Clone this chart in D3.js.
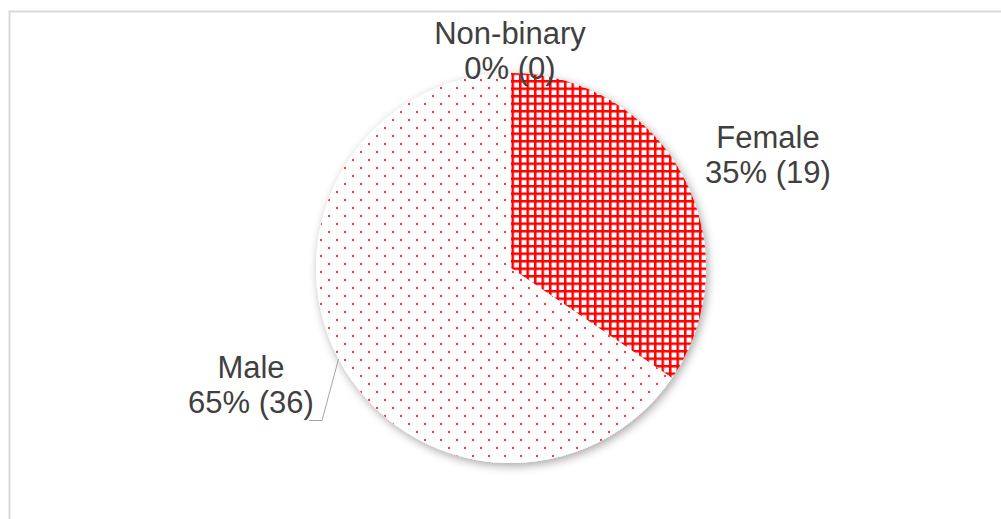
<!DOCTYPE html>
<html>
<head>
<meta charset="utf-8">
<script src="https://cdn.jsdelivr.net/npm/d3@7"></script>
<style>
  html, body { margin: 0; padding: 0; background: #fff; }
  svg { display: block; }
</style>
</head>
<body>
<svg id="chart" width="1001" height="519"></svg>
<script>
// Respondents by gender
const categories = ["Female", "Male", "Non-binary"];
const counts = [19, 36, 0];
const percentLabels = ["35%", "65%", "0%"];

const svg = d3.select("#chart");
const cx = 511, cy = 268, R = 195;

// chart frame
svg.append("rect")
  .attr("x", 9.5).attr("y", 11.5)
  .attr("width", 1010).attr("height", 520)
  .attr("fill", "#fff")
  .attr("stroke", "#d9d9d9")
  .attr("stroke-width", 2);

const defs = svg.append("defs");

// soft shadow under the pie
const shadow = defs.append("filter").attr("id", "pieShadow")
  .attr("x", "-20%").attr("y", "-20%").attr("width", "140%").attr("height", "140%");
shadow.append("feGaussianBlur").attr("in", "SourceAlpha").attr("stdDeviation", 5).attr("result", "blur");
shadow.append("feOffset").attr("in", "blur").attr("dx", 2).attr("dy", 3).attr("result", "off");
shadow.append("feComponentTransfer").attr("in", "off").attr("result", "shade")
  .append("feFuncA").attr("type", "linear").attr("slope", 0.35);
const merge = shadow.append("feMerge");
merge.append("feMergeNode").attr("in", "shade");
merge.append("feMergeNode").attr("in", "SourceGraphic");

// crosshatch fill
const gp = 7.5, gw = 2.5;
const grid = defs.append("pattern").attr("id", "gridFill")
  .attr("patternUnits", "userSpaceOnUse")
  .attr("x", 0.5).attr("y", 7)
  .attr("width", gp).attr("height", gp);
grid.append("rect").attr("width", gp).attr("height", gp).attr("fill", "#fff");
grid.append("rect").attr("x", 0).attr("y", 0).attr("width", gw).attr("height", gp).attr("fill", "#ff0000");
grid.append("rect").attr("x", 0).attr("y", 0).attr("width", gp).attr("height", gw).attr("fill", "#ff0000");

// sparse dotted fill
const dots = defs.append("pattern").attr("id", "dotFill")
  .attr("patternUnits", "userSpaceOnUse")
  .attr("x", 1).attr("y", 3)
  .attr("width", 16).attr("height", 16);
dots.append("rect").attr("width", 16).attr("height", 16).attr("fill", "#fff");
dots.append("rect").attr("x", 0).attr("y", 0).attr("width", 2).attr("height", 2).attr("fill", "#ff3b3b");
dots.append("rect").attr("x", 8).attr("y", 8).attr("width", 2).attr("height", 2).attr("fill", "#ff3b3b");

const fills = { "Female": "url(#gridFill)", "Male": "url(#dotFill)", "Non-binary": "#ff0000" };

const data = categories.map((c, i) => ({ cat: c, value: counts[i], pct: percentLabels[i] }));

const pie = d3.pie().sort(null).value(d => d.value);
const arcs = pie(data);
const arc = d3.arc().innerRadius(0).outerRadius(R);

const g = svg.append("g").attr("transform", `translate(${cx},${cy})`);
g.append("g").attr("filter", "url(#pieShadow)")
  .selectAll("path")
  .data(arcs.filter(a => a.value > 0))
  .join("path")
  .attr("d", arc)
  .attr("fill", d => fills[d.data.cat]);

// data labels
const labelPos = {
  "Female": { x: 768, y: 148 },
  "Male": { x: 251, y: 378 },
  "Non-binary": { x: 510, y: 44 }
};

const labels = svg.append("g")
  .attr("font-family", "Liberation Sans, Arial, sans-serif")
  .attr("font-size", 31)
  .attr("fill", "#404040")
  .attr("text-anchor", "middle");

data.forEach(d => {
  const p = labelPos[d.cat];
  const t = labels.append("text");
  t.append("tspan").attr("x", p.x).attr("y", p.y).text(d.cat);
  t.append("tspan").attr("x", p.x).attr("y", p.y + 35).text(`${d.pct} (${d.value})`);
});

// leader line for the Male label, meeting the rim at the slice's mid-angle
const maleArc = arcs.find(a => a.data.cat === "Male");
const mid = (maleArc.startAngle + maleArc.endAngle) / 2;
svg.append("polyline")
  .attr("points", [
    [309, 420.5],
    [322, 420.5],
    [cx + R * Math.sin(mid), cy - R * Math.cos(mid)]
  ].map(p => p.join(",")).join(" "))
  .attr("fill", "none")
  .attr("stroke", "#a6a6a6")
  .attr("stroke-width", 1);
</script>
</body>
</html>
